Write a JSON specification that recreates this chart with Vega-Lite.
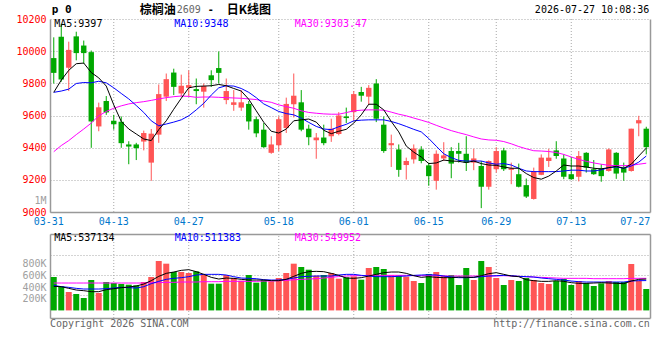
{
  "$schema": "https://vega.github.io/schema/vega-lite/v6.json",
  "autosize": {"type": "none"},
  "width": 600,
  "height": 299,
  "padding": {"left": 50, "top": 19, "right": 10, "bottom": 42},
  "background": "white",
  "config": {
    "view": {"stroke": null},
    "font": "DejaVu Sans Mono",
    "axis": {"labelFont": "DejaVu Sans Mono", "labelFontSize": 10}
  },
  "datasets": {
    "k": [
      {"d":"03-31","o":9957,"h":10086,"l":9799,"c":9865,"v":572500,"m5":9744,"m10":9744,"m30":9375,"vm5":412500,"vm10":429700,"vm30":469700},
      {"d":"04-01","o":10090,"h":10170,"l":9810,"c":9824,"v":412500,"m5":9820,"m10":9752,"m30":9413,"vm5":406800,"vm10":406800,"vm30":469700},
      {"d":"04-02","o":9897,"h":10059,"l":9752,"c":10008,"v":315400,"m5":9881,"m10":9764,"m30":9444,"vm5":378300,"vm10":395400,"vm30":469700},
      {"d":"04-03","o":10092,"h":10121,"l":9943,"c":9988,"v":281100,"m5":9922,"m10":9799,"m30":9481,"vm5":349700,"vm10":378300,"vm30":469700},
      {"d":"04-07","o":10035,"h":10066,"l":9922,"c":9988,"v":212600,"m5":9926,"m10":9805,"m30":9516,"vm5":338300,"vm10":366800,"vm30":469700},
      {"d":"04-08","o":9994,"h":10004,"l":9399,"c":9563,"v":521100,"m5":9867,"m10":9803,"m30":9553,"vm5":321100,"vm10":366800,"vm30":469700},
      {"d":"04-09","o":9532,"h":9680,"l":9502,"c":9651,"v":298300,"m5":9834,"m10":9813,"m30":9598,"vm5":321100,"vm10":366800,"vm30":469700},
      {"d":"04-10","o":9690,"h":9721,"l":9604,"c":9619,"v":486800,"m5":9783,"m10":9803,"m30":9625,"vm5":355400,"vm10":372500,"vm30":469700},
      {"d":"04-13","o":9567,"h":9604,"l":9512,"c":9545,"v":469700,"m5":9666,"m10":9772,"m30":9645,"vm5":372500,"vm10":384000,"vm30":469700},
      {"d":"04-14","o":9561,"h":9594,"l":9399,"c":9428,"v":452500,"m5":9563,"m10":9737,"m30":9660,"vm5":389700,"vm10":395400,"vm30":469700},
      {"d":"04-15","o":9420,"h":9440,"l":9297,"c":9407,"v":441100,"m5":9516,"m10":9703,"m30":9672,"vm5":401100,"vm10":389700,"vm30":469700},
      {"d":"04-16","o":9420,"h":9430,"l":9323,"c":9397,"v":429700,"m5":9485,"m10":9662,"m30":9680,"vm5":418300,"vm10":384000,"vm30":469700},
      {"d":"04-17","o":9438,"h":9506,"l":9383,"c":9491,"v":486800,"m5":9454,"m10":9619,"m30":9686,"vm5":452500,"vm10":406800,"vm30":469700},
      {"d":"04-20","o":9307,"h":9516,"l":9194,"c":9487,"v":572500,"m5":9444,"m10":9567,"m30":9694,"vm5":509700,"vm10":458300,"vm30":475400},
      {"d":"04-21","o":9481,"h":9793,"l":9430,"c":9733,"v":846800,"m5":9512,"m10":9536,"m30":9703,"vm5":584000,"vm10":498300,"vm30":475400},
      {"d":"04-22","o":9717,"h":9861,"l":9690,"c":9826,"v":801100,"m5":9567,"m10":9547,"m30":9711,"vm5":635400,"vm10":532500,"vm30":481100},
      {"d":"04-23","o":9867,"h":9891,"l":9727,"c":9778,"v":658300,"m5":9639,"m10":9559,"m30":9717,"vm5":658300,"vm10":549700,"vm30":481100},
      {"d":"04-24","o":9737,"h":9854,"l":9717,"c":9785,"v":658300,"m5":9707,"m10":9573,"m30":9721,"vm5":686800,"vm10":561100,"vm30":486800},
      {"d":"04-27","o":9772,"h":9880,"l":9717,"c":9789,"v":641100,"m5":9772,"m10":9598,"m30":9719,"vm5":698300,"vm10":578300,"vm30":486800},
      {"d":"04-28","o":9764,"h":9830,"l":9670,"c":9752,"v":669700,"m5":9781,"m10":9635,"m30":9713,"vm5":664000,"vm10":606800,"vm30":486800},
      {"d":"04-29","o":9748,"h":9799,"l":9649,"c":9783,"v":612500,"m5":9783,"m10":9676,"m30":9715,"vm5":618300,"vm10":618300,"vm30":492500},
      {"d":"04-30","o":9850,"h":9881,"l":9778,"c":9820,"v":458300,"m5":9785,"m10":9727,"m30":9715,"vm5":566800,"vm10":618300,"vm30":492500},
      {"d":"05-06","o":9895,"h":9998,"l":9799,"c":9865,"v":458300,"m5":9793,"m10":9772,"m30":9713,"vm5":538300,"vm10":618300,"vm30":492500},
      {"d":"05-07","o":9696,"h":9830,"l":9670,"c":9752,"v":606800,"m5":9785,"m10":9785,"m30":9711,"vm5":555400,"vm10":606800,"vm30":498300},
      {"d":"05-08","o":9666,"h":9758,"l":9629,"c":9682,"v":555400,"m5":9768,"m10":9783,"m30":9709,"vm5":549700,"vm10":578300,"vm30":498300},
      {"d":"05-11","o":9649,"h":9758,"l":9629,"c":9682,"v":509700,"m5":9752,"m10":9768,"m30":9707,"vm5":532500,"vm10":555400,"vm30":498300},
      {"d":"05-12","o":9672,"h":9690,"l":9512,"c":9563,"v":606800,"m5":9701,"m10":9744,"m30":9703,"vm5":521100,"vm10":549700,"vm30":498300},
      {"d":"05-13","o":9577,"h":9594,"l":9465,"c":9489,"v":475400,"m5":9629,"m10":9711,"m30":9699,"vm5":521100,"vm10":544000,"vm30":498300},
      {"d":"05-14","o":9512,"h":9553,"l":9399,"c":9403,"v":521100,"m5":9558,"m10":9672,"m30":9690,"vm5":521100,"vm10":526800,"vm30":504000},
      {"d":"05-15","o":9368,"h":9471,"l":9362,"c":9420,"v":498300,"m5":9502,"m10":9649,"m30":9682,"vm5":509700,"vm10":521100,"vm30":504000},
      {"d":"05-18","o":9415,"h":9594,"l":9379,"c":9577,"v":555400,"m5":9491,"m10":9625,"m30":9666,"vm5":509700,"vm10":521100,"vm30":509700},
      {"d":"05-19","o":9522,"h":9711,"l":9491,"c":9672,"v":641100,"m5":9516,"m10":9612,"m30":9655,"vm5":532500,"vm10":532500,"vm30":515000},
      {"d":"05-20","o":9670,"h":9861,"l":9588,"c":9723,"v":801100,"m5":9567,"m10":9604,"m30":9645,"vm5":584000,"vm10":555400,"vm30":525000},
      {"d":"05-21","o":9682,"h":9758,"l":9502,"c":9512,"v":744000,"m5":9573,"m10":9584,"m30":9629,"vm5":635400,"vm10":578300,"vm30":532000},
      {"d":"05-22","o":9518,"h":9543,"l":9415,"c":9465,"v":698000,"m5":9578,"m10":9557,"m30":9619,"vm5":664000,"vm10":584000,"vm30":538000},
      {"d":"05-25","o":9446,"h":9491,"l":9331,"c":9463,"v":595400,"m5":9559,"m10":9532,"m30":9614,"vm5":669700,"vm10":589700,"vm30":545000},
      {"d":"05-26","o":9463,"h":9543,"l":9415,"c":9428,"v":607000,"m5":9508,"m10":9516,"m30":9610,"vm5":664000,"vm10":589700,"vm30":555000},
      {"d":"05-27","o":9471,"h":9580,"l":9436,"c":9518,"v":641000,"m5":9487,"m10":9512,"m30":9608,"vm5":635400,"vm10":589700,"vm30":568000},
      {"d":"05-28","o":9485,"h":9621,"l":9477,"c":9600,"v":544000,"m5":9502,"m10":9530,"m30":9608,"vm5":601100,"vm10":606800,"vm30":580000},
      {"d":"05-29","o":9594,"h":9649,"l":9553,"c":9584,"v":567000,"m5":9514,"m10":9545,"m30":9618,"vm5":555400,"vm10":618300,"vm30":589000},
      {"d":"06-01","o":9621,"h":9752,"l":9567,"c":9733,"v":584000,"m5":9553,"m10":9567,"m30":9629,"vm5":549700,"vm10":618300,"vm30":595400},
      {"d":"06-02","o":9746,"h":9778,"l":9686,"c":9723,"v":527000,"m5":9604,"m10":9571,"m30":9633,"vm5":561100,"vm10":601100,"vm30":595400},
      {"d":"06-03","o":9717,"h":9789,"l":9666,"c":9772,"v":726800,"m5":9670,"m10":9573,"m30":9635,"vm5":589700,"vm10":589700,"vm30":601100},
      {"d":"06-04","o":9799,"h":9826,"l":9559,"c":9580,"v":744000,"m5":9670,"m10":9573,"m30":9635,"vm5":618300,"vm10":578300,"vm30":601100},
      {"d":"06-05","o":9543,"h":9594,"l":9368,"c":9379,"v":709700,"m5":9635,"m10":9573,"m30":9633,"vm5":646800,"vm10":578300,"vm30":601100},
      {"d":"06-08","o":9415,"h":9481,"l":9280,"c":9428,"v":606800,"m5":9563,"m10":9563,"m30":9621,"vm5":658300,"vm10":578300,"vm30":601100},
      {"d":"06-09","o":9389,"h":9420,"l":9219,"c":9262,"v":601100,"m5":9498,"m10":9549,"m30":9608,"vm5":658300,"vm10":584000,"vm30":601100},
      {"d":"06-10","o":9292,"h":9338,"l":9202,"c":9317,"v":578300,"m5":9410,"m10":9532,"m30":9598,"vm5":635400,"vm10":589700,"vm30":601100},
      {"d":"06-11","o":9327,"h":9420,"l":9301,"c":9395,"v":504000,"m5":9372,"m10":9514,"m30":9584,"vm5":595400,"vm10":601100,"vm30":595400},
      {"d":"06-12","o":9389,"h":9409,"l":9303,"c":9317,"v":469700,"m5":9342,"m10":9498,"m30":9571,"vm5":566800,"vm10":606800,"vm30":595400},
      {"d":"06-15","o":9290,"h":9307,"l":9163,"c":9223,"v":624000,"m5":9301,"m10":9457,"m30":9557,"vm5":578300,"vm10":612500,"vm30":595400},
      {"d":"06-16","o":9194,"h":9383,"l":9139,"c":9362,"v":658300,"m5":9305,"m10":9409,"m30":9539,"vm5":566800,"vm10":606800,"vm30":595400},
      {"d":"06-17","o":9333,"h":9434,"l":9317,"c":9352,"v":595400,"m5":9323,"m10":9362,"m30":9522,"vm5":561100,"vm10":589700,"vm30":589700},
      {"d":"06-18","o":9379,"h":9403,"l":9210,"c":9301,"v":606800,"m5":9317,"m10":9338,"m30":9506,"vm5":561100,"vm10":572500,"vm30":589700},
      {"d":"06-22","o":9379,"h":9430,"l":9307,"c":9362,"v":435400,"m5":9315,"m10":9321,"m30":9493,"vm5":572500,"vm10":561100,"vm30":589700},
      {"d":"06-23","o":9362,"h":9471,"l":9255,"c":9307,"v":726800,"m5":9307,"m10":9317,"m30":9481,"vm5":566800,"vm10":561100,"vm30":589700},
      {"d":"06-24","o":9307,"h":9393,"l":9260,"c":9333,"v":521100,"m5":9317,"m10":9317,"m30":9467,"vm5":566800,"vm10":566800,"vm30":589700},
      {"d":"06-25","o":9286,"h":9317,"l":9024,"c":9157,"v":846800,"m5":9301,"m10":9317,"m30":9454,"vm5":595400,"vm10":578300,"vm30":589700},
      {"d":"06-26","o":9157,"h":9321,"l":9139,"c":9317,"v":744000,"m5":9292,"m10":9305,"m30":9448,"vm5":629700,"vm10":589700,"vm30":589700},
      {"d":"06-29","o":9266,"h":9403,"l":9245,"c":9379,"v":555400,"m5":9290,"m10":9297,"m30":9446,"vm5":646800,"vm10":595400,"vm30":589700},
      {"d":"06-30","o":9383,"h":9399,"l":9255,"c":9266,"v":435400,"m5":9280,"m10":9301,"m30":9438,"vm5":618300,"vm10":601100,"vm30":595400},
      {"d":"07-01","o":9262,"h":9307,"l":9173,"c":9272,"v":521100,"m5":9272,"m10":9292,"m30":9424,"vm5":589700,"vm10":595400,"vm30":589700},
      {"d":"07-02","o":9235,"h":9301,"l":9153,"c":9157,"v":504000,"m5":9272,"m10":9272,"m30":9407,"vm5":578300,"vm10":584000,"vm30":584000},
      {"d":"07-03","o":9167,"h":9208,"l":9087,"c":9096,"v":555400,"m5":9239,"m10":9255,"m30":9393,"vm5":526800,"vm10":578300,"vm30":578300},
      {"d":"07-06","o":9081,"h":9276,"l":9077,"c":9251,"v":521100,"m5":9214,"m10":9251,"m30":9381,"vm5":509700,"vm10":572500,"vm30":572500},
      {"d":"07-07","o":9231,"h":9358,"l":9229,"c":9338,"v":469700,"m5":9204,"m10":9251,"m30":9379,"vm5":498300,"vm10":555400,"vm30":566800},
      {"d":"07-08","o":9317,"h":9393,"l":9280,"c":9338,"v":452500,"m5":9223,"m10":9251,"m30":9376,"vm5":498300,"vm10":544000,"vm30":561100},
      {"d":"07-09","o":9383,"h":9440,"l":9331,"c":9348,"v":504000,"m5":9255,"m10":9251,"m30":9370,"vm5":509700,"vm10":532500,"vm30":555400},
      {"d":"07-10","o":9333,"h":9358,"l":9204,"c":9219,"v":538300,"m5":9292,"m10":9255,"m30":9358,"vm5":498300,"vm10":521100,"vm30":549700},
      {"d":"07-13","o":9235,"h":9342,"l":9200,"c":9204,"v":435400,"m5":9286,"m10":9260,"m30":9342,"vm5":475400,"vm10":504000,"vm30":549700},
      {"d":"07-14","o":9219,"h":9379,"l":9190,"c":9348,"v":504000,"m5":9286,"m10":9260,"m30":9327,"vm5":464000,"vm10":492500,"vm30":549700},
      {"d":"07-15","o":9368,"h":9372,"l":9245,"c":9276,"v":469700,"m5":9280,"m10":9255,"m30":9315,"vm5":464000,"vm10":486800,"vm30":549700},
      {"d":"07-16","o":9266,"h":9323,"l":9231,"c":9235,"v":418300,"m5":9272,"m10":9255,"m30":9305,"vm5":469700,"vm10":486800,"vm30":544000},
      {"d":"07-17","o":9272,"h":9297,"l":9188,"c":9223,"v":464000,"m5":9268,"m10":9262,"m30":9297,"vm5":475400,"vm10":486800,"vm30":544000},
      {"d":"07-20","o":9255,"h":9395,"l":9251,"c":9389,"v":504000,"m5":9276,"m10":9276,"m30":9290,"vm5":469700,"vm10":486800,"vm30":544000},
      {"d":"07-21","o":9368,"h":9372,"l":9206,"c":9239,"v":486800,"m5":9284,"m10":9280,"m30":9288,"vm5":464000,"vm10":486800,"vm30":544000},
      {"d":"07-22","o":9276,"h":9307,"l":9194,"c":9245,"v":486800,"m5":9272,"m10":9272,"m30":9288,"vm5":458300,"vm10":486800,"vm30":544000},
      {"d":"07-23","o":9255,"h":9518,"l":9251,"c":9518,"v":795400,"m5":9297,"m10":9286,"m30":9290,"vm5":504000,"vm10":504000,"vm30":549700},
      {"d":"07-24","o":9551,"h":9598,"l":9471,"c":9571,"v":509700,"m5":9348,"m10":9310,"m30":9297,"vm5":532500,"vm10":509700,"vm30":549700},
      {"d":"07-27","o":9518,"h":9530,"l":9358,"c":9403,"v":366800,"m5":9397,"m10":9348,"m30":9303.47,"vm5":537134,"vm10":511383,"vm30":549952}
    ],
    "grid": [
      {"d": "04-13"}, {"d": "04-27"}, {"d": "05-18"}, {"d": "06-01"},
      {"d": "06-15"}, {"d": "06-29"}, {"d": "07-13"}
    ]
  },
  "resolve": {
    "scale": {"y": "independent"},
    "axis": {"x": "independent", "y": "independent"}
  },
  "layer": [
    {
      "data": {"name": "grid"},
      "mark": {"type": "rule", "color": "#A8A8A8", "strokeDash": [1, 2], "strokeWidth": 1},
      "encoding": {
        "x": {"field": "d", "type": "ordinal", "axis": null},
        "y": {"datum": 9000, "type": "quantitative", "scale": {"domain": [9000, 10200], "range": [193, 0], "nice": false, "zero": false}, "axis": null},
        "y2": {"datum": 10200}
      }
    },
    {
      "data": {"name": "grid"},
      "mark": {"type": "rule", "color": "#A8A8A8", "strokeDash": [1, 2], "strokeWidth": 1},
      "encoding": {
        "x": {"field": "d", "type": "ordinal", "axis": null},
        "y": {"datum": -130000, "type": "quantitative", "scale": {"domain": [-130000, 1310000], "range": [299, 215], "nice": false, "zero": false}, "axis": null},
        "y2": {"datum": 1310000}
      }
    },
    {
      "data": {"name": "k"},
      "mark": {"type": "rule", "strokeWidth": 1},
      "encoding": {
        "x": {
          "field": "d", "type": "ordinal",
          "scale": {"type": "band", "paddingInner": 0, "paddingOuter": 0},
          "axis": {
            "orient": "bottom", "offset": -106, "title": null,
            "values": ["03-31", "04-13", "04-27", "05-18", "06-01", "06-15", "06-29", "07-13", "07-27"],
            "bandPosition": 0.5, "ticks": false, "tickSize": 0, "grid": false,
            "domain": true, "domainColor": "#999999", "domainWidth": 1.5,
            "labelColor": "#0077CC", "labelFont": "DejaVu Sans Mono", "labelFontSize": 10,
            "labelPadding": 4, "labelAngle": 0,
            "labelAlign": {"condition": {"test": "datum.value === '07-27'", "value": "right"}, "value": "center"},
            "labelOffset": {"condition": [{"test": "datum.value === '07-27'", "value": 4}, {"test": "datum.value === '03-31'", "value": -5}], "value": 0}
          }
        },
        "y": {
          "field": "l", "type": "quantitative",
          "scale": {"domain": [9000, 10200], "range": [193, 0], "nice": false, "zero": false},
          "axis": {
            "orient": "left", "title": null,
            "values": [9000, 9070, 9200, 9400, 9600, 9800, 10000, 10200],
            "format": "d",
            "labelExpr": "datum.value === 9070 ? '1M' : datum.label",
            "labelColor": {"condition": {"test": "datum.value === 9070", "value": "#A0A0A0"}, "value": "#FF0000"},
            "labelFont": "DejaVu Sans Mono", "labelFontSize": 10, "labelPadding": 4,
            "labelOverlap": false, "ticks": false, "tickSize": 0,
            "domain": true, "domainColor": "#999999", "domainWidth": 1.5,
            "grid": true, "gridColor": "#A8A8A8", "gridDash": [1, 2],
            "gridOpacity": {"condition": {"test": "datum.value === 9070", "value": 0}, "value": 1}
          }
        },
        "y2": {"field": "h"},
        "color": {"condition": {"test": "datum.c >= datum.o", "value": "#FF5555"}, "value": "#00A800"}
      }
    },
    {
      "data": {"name": "k"},
      "mark": {"type": "bar", "width": {"band": 0.72}},
      "encoding": {
        "x": {"field": "d", "type": "ordinal", "axis": null},
        "y": {
          "field": "o", "type": "quantitative",
          "scale": {"domain": [9000, 10200], "range": [193, 0], "nice": false, "zero": false},
          "axis": {"orient": "right", "title": null, "labels": false, "ticks": false, "grid": false, "domain": true, "domainColor": "#999999", "domainWidth": 1.5}
        },
        "y2": {"field": "c"},
        "color": {"condition": {"test": "datum.c >= datum.o", "value": "#FF5555"}, "value": "#00A800"}
      }
    },
    {
      "data": {"name": "k"},
      "mark": {"type": "line", "color": "#FF00FF", "strokeWidth": 1},
      "encoding": {
        "x": {"field": "d", "type": "ordinal", "axis": null},
        "y": {"field": "m30", "type": "quantitative", "scale": {"domain": [9000, 10200], "range": [193, 0], "nice": false, "zero": false}, "axis": null}
      }
    },
    {
      "data": {"name": "k"},
      "mark": {"type": "line", "color": "#0000FF", "strokeWidth": 1},
      "encoding": {
        "x": {"field": "d", "type": "ordinal", "axis": null},
        "y": {"field": "m10", "type": "quantitative", "scale": {"domain": [9000, 10200], "range": [193, 0], "nice": false, "zero": false}, "axis": null}
      }
    },
    {
      "data": {"name": "k"},
      "mark": {"type": "line", "color": "#000000", "strokeWidth": 1},
      "encoding": {
        "x": {"field": "d", "type": "ordinal", "axis": null},
        "y": {"field": "m5", "type": "quantitative", "scale": {"domain": [9000, 10200], "range": [193, 0], "nice": false, "zero": false}, "axis": null}
      }
    },
    {
      "data": {"name": "k"},
      "mark": {"type": "bar", "width": {"band": 0.8}},
      "encoding": {
        "x": {
          "field": "d", "type": "ordinal",
          "axis": {"orient": "bottom", "title": null, "labels": false, "ticks": false, "grid": false, "domain": true, "domainColor": "#999999", "domainWidth": 1.5}
        },
        "y": {
          "field": "v", "type": "quantitative",
          "scale": {"domain": [-130000, 1310000], "range": [299, 215], "nice": false, "zero": false},
          "axis": {
            "orient": "left", "title": null,
            "values": [200000, 400000, 600000, 800000],
            "labelExpr": "(datum.value / 1000) + 'K'",
            "labelColor": "#A0A0A0", "labelFont": "DejaVu Sans Mono", "labelFontSize": 10,
            "labelPadding": 4, "labelOverlap": false, "ticks": false, "tickSize": 0,
            "grid": false, "domain": true, "domainColor": "#999999", "domainWidth": 1.5
          }
        },
        "y2": {"datum": 0},
        "color": {"condition": {"test": "datum.c >= datum.o", "value": "#FF5555"}, "value": "#00A800"}
      }
    },
    {
      "data": {"name": "k"},
      "mark": {"type": "line", "color": "#FF00FF", "strokeWidth": 1},
      "encoding": {
        "x": {"field": "d", "type": "ordinal", "axis": null},
        "y": {
          "field": "vm30", "type": "quantitative",
          "scale": {"domain": [-130000, 1310000], "range": [299, 215], "nice": false, "zero": false},
          "axis": {
            "orient": "left", "title": null,
            "values": [260000, 600000, 945000, 1310000],
            "labels": false, "ticks": false, "domain": false, "grid": true,
            "gridColor": {"condition": {"test": "datum.value === 1310000", "value": "#999999"}, "value": "#A8A8A8"},
            "gridDash": {"condition": {"test": "datum.value === 1310000", "value": []}, "value": [1, 2]},
            "gridWidth": {"condition": {"test": "datum.value === 1310000", "value": 1.5}, "value": 1}
          }
        }
      }
    },
    {
      "data": {"name": "k"},
      "mark": {"type": "line", "color": "#0000FF", "strokeWidth": 1},
      "encoding": {
        "x": {"field": "d", "type": "ordinal", "axis": null},
        "y": {
          "field": "vm10", "type": "quantitative",
          "scale": {"domain": [-130000, 1310000], "range": [299, 215], "nice": false, "zero": false},
          "axis": {"orient": "right", "title": null, "labels": false, "ticks": false, "grid": false, "domain": true, "domainColor": "#999999", "domainWidth": 1.5}
        }
      }
    },
    {
      "data": {"name": "k"},
      "mark": {"type": "line", "color": "#000000", "strokeWidth": 1},
      "encoding": {
        "x": {"field": "d", "type": "ordinal", "axis": null},
        "y": {"field": "vm5", "type": "quantitative", "scale": {"domain": [-130000, 1310000], "range": [299, 215], "nice": false, "zero": false}, "axis": null}
      }
    },
    {
      "data": {"values": [{"d": "03-31", "t": "p 0"}]},
      "mark": {"type": "text", "align": "left", "baseline": "middle", "dx": -2, "font": "DejaVu Sans Mono", "fontSize": 11, "fontWeight": "bold", "color": "#000000"},
      "encoding": {
        "x": {"field": "d", "type": "ordinal", "axis": null},
        "y": {"datum": 10253, "type": "quantitative", "scale": {"domain": [9000, 10200], "range": [193, 0], "nice": false, "zero": false}, "axis": null},
        "text": {"field": "t"}
      }
    },
    {
      "data": {"values": [{"d": "04-23", "t": "棕榈油"}]},
      "mark": {"type": "text", "align": "right", "baseline": "middle", "dx": 2, "font": "Noto Sans CJK SC", "fontSize": 12, "fontWeight": "bold", "color": "#000000"},
      "encoding": {
        "x": {"field": "d", "type": "ordinal", "axis": null},
        "y": {"datum": 10253, "type": "quantitative", "scale": {"domain": [9000, 10200], "range": [193, 0], "nice": false, "zero": false}, "axis": null},
        "text": {"field": "t"}
      }
    },
    {
      "data": {"values": [{"d": "04-23", "t": "2609"}]},
      "mark": {"type": "text", "align": "left", "baseline": "middle", "dx": 3, "font": "DejaVu Sans Mono", "fontSize": 10, "color": "#666666"},
      "encoding": {
        "x": {"field": "d", "type": "ordinal", "axis": null},
        "y": {"datum": 10253, "type": "quantitative", "scale": {"domain": [9000, 10200], "range": [193, 0], "nice": false, "zero": false}, "axis": null},
        "text": {"field": "t"}
      }
    },
    {
      "data": {"values": [{"d": "04-23", "t": "-"}]},
      "mark": {"type": "text", "align": "center", "baseline": "middle", "dx": 37, "font": "DejaVu Sans Mono", "fontSize": 10, "fontWeight": "bold", "color": "#000000"},
      "encoding": {
        "x": {"field": "d", "type": "ordinal", "axis": null},
        "y": {"datum": 10253, "type": "quantitative", "scale": {"domain": [9000, 10200], "range": [193, 0], "nice": false, "zero": false}, "axis": null},
        "text": {"field": "t"}
      }
    },
    {
      "data": {"values": [{"d": "04-23", "t": "日K线图"}]},
      "mark": {"type": "text", "align": "left", "baseline": "middle", "dx": 53, "font": "Noto Sans CJK SC", "fontSize": 12, "fontWeight": "bold", "color": "#000000"},
      "encoding": {
        "x": {"field": "d", "type": "ordinal", "axis": null},
        "y": {"datum": 10253, "type": "quantitative", "scale": {"domain": [9000, 10200], "range": [193, 0], "nice": false, "zero": false}, "axis": null},
        "text": {"field": "t"}
      }
    },
    {
      "data": {"values": [{"d": "07-27", "t": "2026-07-27 10:08:36"}]},
      "mark": {"type": "text", "align": "right", "baseline": "middle", "dx": 3, "font": "DejaVu Sans Mono", "fontSize": 10, "color": "#000000"},
      "encoding": {
        "x": {"field": "d", "type": "ordinal", "axis": null},
        "y": {"datum": 10253, "type": "quantitative", "scale": {"domain": [9000, 10200], "range": [193, 0], "nice": false, "zero": false}, "axis": null},
        "text": {"field": "t"}
      }
    },
    {
      "data": {"values": [{"d": "03-31", "t": "MA5:9397"}]},
      "mark": {"type": "text", "align": "left", "baseline": "middle", "dx": 0.5, "font": "DejaVu Sans Mono", "fontSize": 10, "color": "#000000"},
      "encoding": {
        "x": {"field": "d", "type": "ordinal", "axis": null},
        "y": {"datum": 10168, "type": "quantitative", "scale": {"domain": [9000, 10200], "range": [193, 0], "nice": false, "zero": false}, "axis": null},
        "text": {"field": "t"}
      }
    },
    {
      "data": {"values": [{"d": "04-23", "t": "MA10:9348"}]},
      "mark": {"type": "text", "align": "left", "baseline": "middle", "dx": 0.5, "font": "DejaVu Sans Mono", "fontSize": 10, "color": "#0000FF"},
      "encoding": {
        "x": {"field": "d", "type": "ordinal", "axis": null},
        "y": {"datum": 10168, "type": "quantitative", "scale": {"domain": [9000, 10200], "range": [193, 0], "nice": false, "zero": false}, "axis": null},
        "text": {"field": "t"}
      }
    },
    {
      "data": {"values": [{"d": "05-20", "t": "MA30:9303.47"}]},
      "mark": {"type": "text", "align": "left", "baseline": "middle", "dx": 1, "font": "DejaVu Sans Mono", "fontSize": 10, "color": "#FF00FF"},
      "encoding": {
        "x": {"field": "d", "type": "ordinal", "axis": null},
        "y": {"datum": 10168, "type": "quantitative", "scale": {"domain": [9000, 10200], "range": [193, 0], "nice": false, "zero": false}, "axis": null},
        "text": {"field": "t"}
      }
    },
    {
      "data": {"values": [{"d": "03-31", "t": "MA5:537134"}]},
      "mark": {"type": "text", "align": "left", "baseline": "middle", "dx": 0.5, "font": "DejaVu Sans Mono", "fontSize": 10, "color": "#000000"},
      "encoding": {
        "x": {"field": "d", "type": "ordinal", "axis": null},
        "y": {"datum": 1236000, "type": "quantitative", "scale": {"domain": [-130000, 1310000], "range": [299, 215], "nice": false, "zero": false}, "axis": null},
        "text": {"field": "t"}
      }
    },
    {
      "data": {"values": [{"d": "04-23", "t": "MA10:511383"}]},
      "mark": {"type": "text", "align": "left", "baseline": "middle", "dx": 1, "font": "DejaVu Sans Mono", "fontSize": 10, "color": "#0000FF"},
      "encoding": {
        "x": {"field": "d", "type": "ordinal", "axis": null},
        "y": {"datum": 1236000, "type": "quantitative", "scale": {"domain": [-130000, 1310000], "range": [299, 215], "nice": false, "zero": false}, "axis": null},
        "text": {"field": "t"}
      }
    },
    {
      "data": {"values": [{"d": "05-20", "t": "MA30:549952"}]},
      "mark": {"type": "text", "align": "left", "baseline": "middle", "dx": 1, "font": "DejaVu Sans Mono", "fontSize": 10, "color": "#FF00FF"},
      "encoding": {
        "x": {"field": "d", "type": "ordinal", "axis": null},
        "y": {"datum": 1236000, "type": "quantitative", "scale": {"domain": [-130000, 1310000], "range": [299, 215], "nice": false, "zero": false}, "axis": null},
        "text": {"field": "t"}
      }
    },
    {
      "data": {"values": [{"d": "03-31", "t": "Copyright 2026 SINA.COM"}]},
      "mark": {"type": "text", "align": "left", "baseline": "middle", "dx": -3.75, "font": "DejaVu Sans Mono", "fontSize": 10, "color": "#666666"},
      "encoding": {
        "x": {"field": "d", "type": "ordinal", "axis": null},
        "y": {"datum": -228000, "type": "quantitative", "scale": {"domain": [-130000, 1310000], "range": [299, 215], "nice": false, "zero": false}, "axis": null},
        "text": {"field": "t"}
      }
    },
    {
      "data": {"values": [{"d": "07-27", "t": "http://finance.sina.com.cn"}]},
      "mark": {"type": "text", "align": "right", "baseline": "middle", "dx": 3.5, "font": "DejaVu Sans Mono", "fontSize": 10, "color": "#666666"},
      "encoding": {
        "x": {"field": "d", "type": "ordinal", "axis": null},
        "y": {"datum": -228000, "type": "quantitative", "scale": {"domain": [-130000, 1310000], "range": [299, 215], "nice": false, "zero": false}, "axis": null},
        "text": {"field": "t"}
      }
    }
  ]
}
